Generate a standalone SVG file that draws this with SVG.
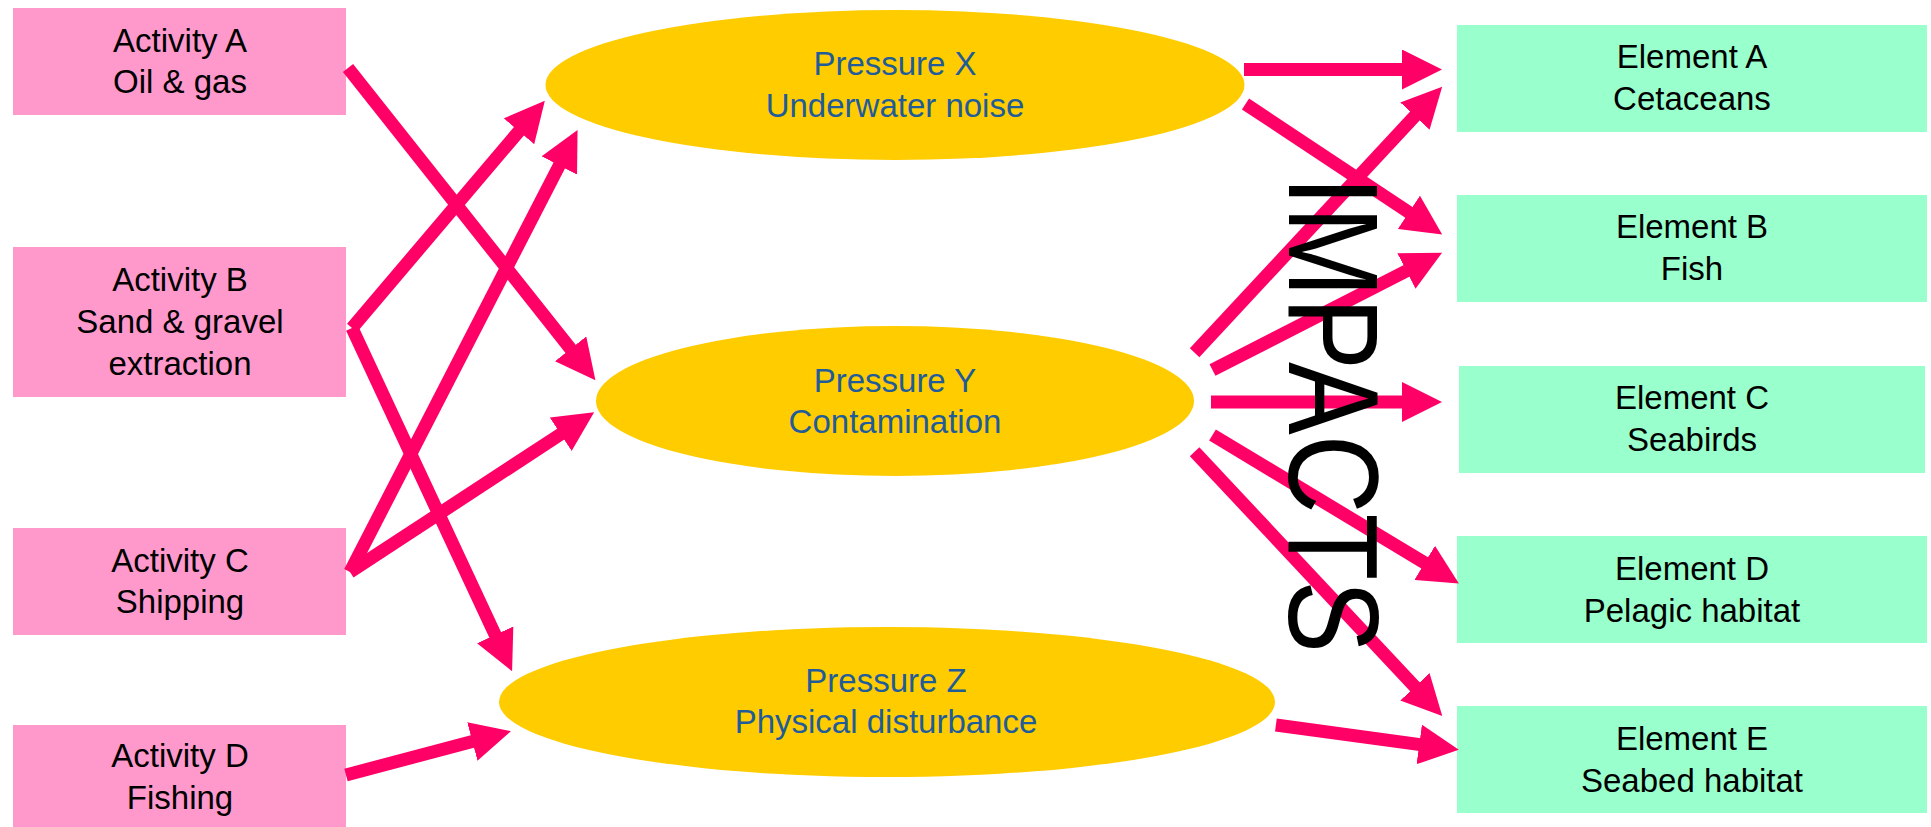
<svg xmlns="http://www.w3.org/2000/svg" width="1931" height="827" viewBox="0 0 1931 827">
  <style>
    .activity { fill: #FF99CC; }
    .pressure { fill: #FFCC00; }
    .element { fill: #99FFCC; }
    .label { font-family: "Liberation Sans", Arial, sans-serif; font-size: 33px; text-anchor: middle; fill: #000000; }
    .plabel { font-family: "Liberation Sans", Arial, sans-serif; font-size: 33px; text-anchor: middle; fill: #1F5C99; }
    .link { stroke: #FF0066; stroke-width: 13; fill: none; marker-end: url(#head); }
    .big { font-family: "Liberation Sans", Arial, sans-serif; font-size: 128px; fill: #000000; }
  </style>
  <defs>
    <marker id="head" markerUnits="userSpaceOnUse" markerWidth="40" markerHeight="40" refX="1" refY="20" orient="auto">
      <path d="M0,0 L40,20 L0,40 Z" fill="#FF0066"/>
    </marker>
  </defs>
  <rect width="1931" height="827" fill="#FFFFFF"/>

  <!-- activities -->
  <g id="activity-a">
    <rect class="activity" x="13" y="8" width="333" height="107"/>
    <text class="label" x="180" y="52">Activity A</text>
    <text class="label" x="180" y="93">Oil &amp; gas</text>
  </g>
  <g id="activity-b">
    <rect class="activity" x="13" y="247" width="333" height="150"/>
    <text class="label" x="180" y="291">Activity B</text>
    <text class="label" x="180" y="333">Sand &amp; gravel</text>
    <text class="label" x="180" y="375">extraction</text>
  </g>
  <g id="activity-c">
    <rect class="activity" x="13" y="528" width="333" height="107"/>
    <text class="label" x="180" y="572">Activity C</text>
    <text class="label" x="180" y="613">Shipping</text>
  </g>
  <g id="activity-d">
    <rect class="activity" x="13" y="725" width="333" height="102"/>
    <text class="label" x="180" y="767">Activity D</text>
    <text class="label" x="180" y="809">Fishing</text>
  </g>

  <!-- pressures -->
  <g id="pressure-x">
    <ellipse class="pressure" cx="895" cy="85" rx="349.5" ry="75"/>
    <text class="plabel" x="895" y="75">Pressure X</text>
    <text class="plabel" x="895" y="117">Underwater noise</text>
  </g>
  <g id="pressure-y">
    <ellipse class="pressure" cx="895" cy="401" rx="299" ry="75"/>
    <text class="plabel" x="895" y="392">Pressure Y</text>
    <text class="plabel" x="895" y="433">Contamination</text>
  </g>
  <g id="pressure-z">
    <ellipse class="pressure" cx="887" cy="702" rx="388" ry="75"/>
    <text class="plabel" x="886" y="692">Pressure Z</text>
    <text class="plabel" x="886" y="733">Physical disturbance</text>
  </g>

  <!-- receptor elements -->
  <g id="element-a">
    <rect class="element" x="1457" y="25" width="470" height="107"/>
    <text class="label" x="1692" y="68">Element A</text>
    <text class="label" x="1692" y="110">Cetaceans</text>
  </g>
  <g id="element-b">
    <rect class="element" x="1457" y="195" width="470" height="107"/>
    <text class="label" x="1692" y="238">Element B</text>
    <text class="label" x="1692" y="280">Fish</text>
  </g>
  <g id="element-c">
    <rect class="element" x="1459" y="366" width="466" height="107"/>
    <text class="label" x="1692" y="409">Element C</text>
    <text class="label" x="1692" y="451">Seabirds</text>
  </g>
  <g id="element-d">
    <rect class="element" x="1457" y="536" width="470" height="107"/>
    <text class="label" x="1692" y="580">Element D</text>
    <text class="label" x="1692" y="622">Pelagic habitat</text>
  </g>
  <g id="element-e">
    <rect class="element" x="1457" y="706" width="470" height="107"/>
    <text class="label" x="1692" y="750">Element E</text>
    <text class="label" x="1692" y="792">Seabed habitat</text>
  </g>

  <!-- connectors: each line stops at the arrowhead base -->
  <g id="connectors">
    <!-- activities to pressures -->
    <path class="link" d="M348,68 L571.2,349.6"/>
    <path class="link" d="M352,328 L519.6,130.5"/>
    <path class="link" d="M352,328 L495.6,635.8"/>
    <path class="link" d="M350,572 L559.7,164.6"/>
    <path class="link" d="M350,572 L561.5,433.6"/>
    <path class="link" d="M346,775 L473.3,741.2"/>
    <!-- pressures to elements -->
    <path class="link" d="M1244,69.5 L1403,69.5"/>
    <path class="link" d="M1245.5,104 L1409.7,212.9"/>
    <path class="link" d="M1194.6,352.7 L1415.6,115.3"/>
    <path class="link" d="M1212.5,370 L1407.3,270.5"/>
    <path class="link" d="M1211,402 L1403,402"/>
    <path class="link" d="M1212.5,435 L1425.5,563.4"/>
    <path class="link" d="M1194.6,451.7 L1415.6,687.5"/>
    <path class="link" d="M1275.9,725 L1420.2,744.6"/>
  </g>

  <!-- vertical heading over the pressure-to-element links -->
  <g id="impacts-title">
    <text class="big" transform="translate(1289,176) rotate(90)" x="0" y="0" textLength="477" lengthAdjust="spacingAndGlyphs">IMPACTS</text>
  </g>
</svg>
